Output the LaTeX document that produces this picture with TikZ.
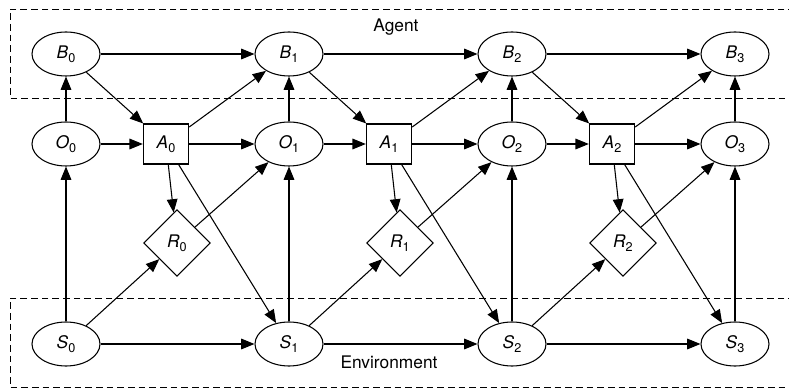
\documentclass[tikz,border=0pt]{standalone}
\usepackage{fontspec}
\setmainfont{TeX Gyre Heros}
\usetikzlibrary{shapes.geometric, arrows.meta}

\newcommand{\varsub}[2]{\textit{#1}\raisebox{-0.45ex}{\fontsize{9.5}{11}\selectfont #2}}

\begin{document}
\begin{tikzpicture}[x=0.75pt,y=-0.75pt,
  every node/.style={font=\fontsize{13}{15}\selectfont},
  oval/.style={draw,ellipse,minimum width=51pt,minimum height=33pt,inner sep=0pt,line width=0.8pt},
  act/.style={draw,rectangle,minimum width=34pt,minimum height=30pt,inner sep=0pt,line width=0.8pt},
  rew/.style={draw,diamond,minimum width=50pt,minimum height=50pt,inner sep=0pt,line width=0.8pt},
  arr/.style={-{Triangle[length=10pt,width=8pt]},line width=0.8pt},
  region/.style={dash pattern=on 5pt off 3pt,line width=0.7pt}]
\useasboundingbox (0,0) rectangle (789,388);

% agent and environment regions
\draw[region] (795,9) -- (10,9) -- (10,98) -- (795,98);
\draw[region] (795,298) -- (10,298) -- (10,387) -- (795,387);
\node (agent) at (396,27) {Agent};
\node (env) at (389,362) {Environment};

% beliefs, observations, states
\foreach \i/\x in {0/66,1/289,2/512,3/735} {
  \node[oval] (B\i) at (\x,54) {\varsub{B}{\i}};
  \node[oval] (O\i) at (\x,144) {\varsub{O}{\i}};
  \node[oval] (S\i) at (\x,344) {\varsub{S}{\i}};
}

% actions and rewards
\foreach \i/\x/\r in {0/166/177,1/389/400,2/612/623} {
  \node[act] (A\i) at (\x,144) {\varsub{A}{\i}};
  \node[rew] (R\i) at (\r,243) {\varsub{R}{\i}};
}

\foreach \i in {0,...,3} {
  \draw[arr] (O\i) -- (B\i);
  \draw[arr] (S\i) -- (O\i);
}

\foreach \i in {0,1,2} {
  \pgfmathtruncatemacro{\j}{\i+1}
  \draw[arr] (B\i) -- (B\j);
  \draw[arr] (B\i) -- (A\i);
  \draw[arr] (O\i) -- (A\i);
  \draw[arr] (A\i) -- (B\j);
  \draw[arr] (A\i) -- (O\j);
  \draw[arr] (A\i) -- (R\i);
  \draw[arr] (A\i) -- (S\j);
  \draw[arr] (R\i) -- (O\j);
  \draw[arr] (S\i) -- (R\i);
  \draw[arr] (S\i) -- (S\j);
}
\end{tikzpicture}
\end{document}
